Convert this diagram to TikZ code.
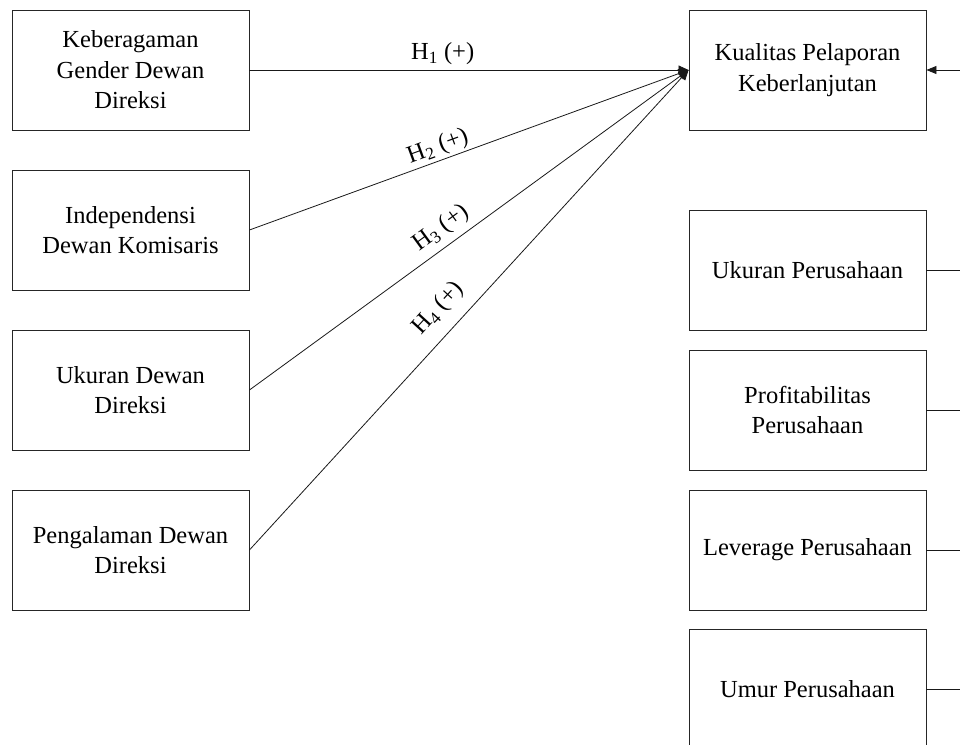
\documentclass[tikz,border=0pt]{standalone}
\usepackage{fontspec}
\setmainfont{Liberation Serif}
\usetikzlibrary{arrows.meta}
\begin{document}
\begin{tikzpicture}[x=1pt,y=-1pt,
  box/.style={draw=black!85, line width=0.9pt, minimum width=237pt, minimum height=120pt, align=center, inner sep=0pt,
    font=\fontsize{24.5}{30.5}\selectfont},
  conn/.style={line width=0.8pt, draw=black!90},
  arr/.style={conn, -{Triangle[length=10pt,width=9pt]}},
  lab/.style={font=\fontsize{24.5}{29}\selectfont, inner sep=0pt, sloped}
]
\clip (0,0) rectangle (960,744);
\fill[white] (0,0) rectangle (960,744);
% left boxes
\node[box] (kg) at (130.5,70) {Keberagaman\\Gender Dewan\\Direksi};
\node[box] (ik) at (130.5,230) {Independensi\\Dewan Komisaris};
\node[box] (ud) at (130.5,390) {Ukuran Dewan\\Direksi};
\node[box] (pd) at (130.5,550) {Pengalaman Dewan\\Direksi};
% right boxes
\node[box] (kp) at (807.5,70) {Kualitas Pelaporan\\Keberlanjutan};
\node[box] (up) at (807.5,270) {Ukuran Perusahaan};
\node[box] (pp) at (807.5,410) {Profitabilitas\\Perusahaan};
\node[box] (lp) at (807.5,550) {Leverage Perusahaan};
\node[box] (ump) at (807.5,689) {Umur Perusahaan};
% free ends at right edge
\coordinate (e0) at (962,70);
\coordinate (e1) at (962,270);
\coordinate (e2) at (962,410);
\coordinate (e3) at (962,550);
\coordinate (e4) at (962,689);
% hypothesis connectors
\draw[arr] (kg.east) -- node[lab, pos=0.44, above=5pt] {H\textsubscript{1} (+)} (kp.west);
\draw[arr] (ik.east) -- node[lab, pos=0.44, above=2pt] {H\textsubscript{2} (+)} (kp.west);
\draw[arr] (ud.east) -- node[lab, pos=0.46, above=6pt] {H\textsubscript{3} (+)} (kp.west);
\draw[arr] (pd.east) -- node[lab, pos=0.47, above=12pt] {H\textsubscript{4} (+)} (kp.west);
% control connectors
\draw[conn, -{Triangle[length=10pt,width=8pt]}] (e0) -- (kp.east);
\draw[conn] (up.east) -- (e1);
\draw[conn] (pp.east) -- (e2);
\draw[conn] (lp.east) -- (e3);
\draw[conn] (ump.east) -- (e4);
\end{tikzpicture}
\end{document}
